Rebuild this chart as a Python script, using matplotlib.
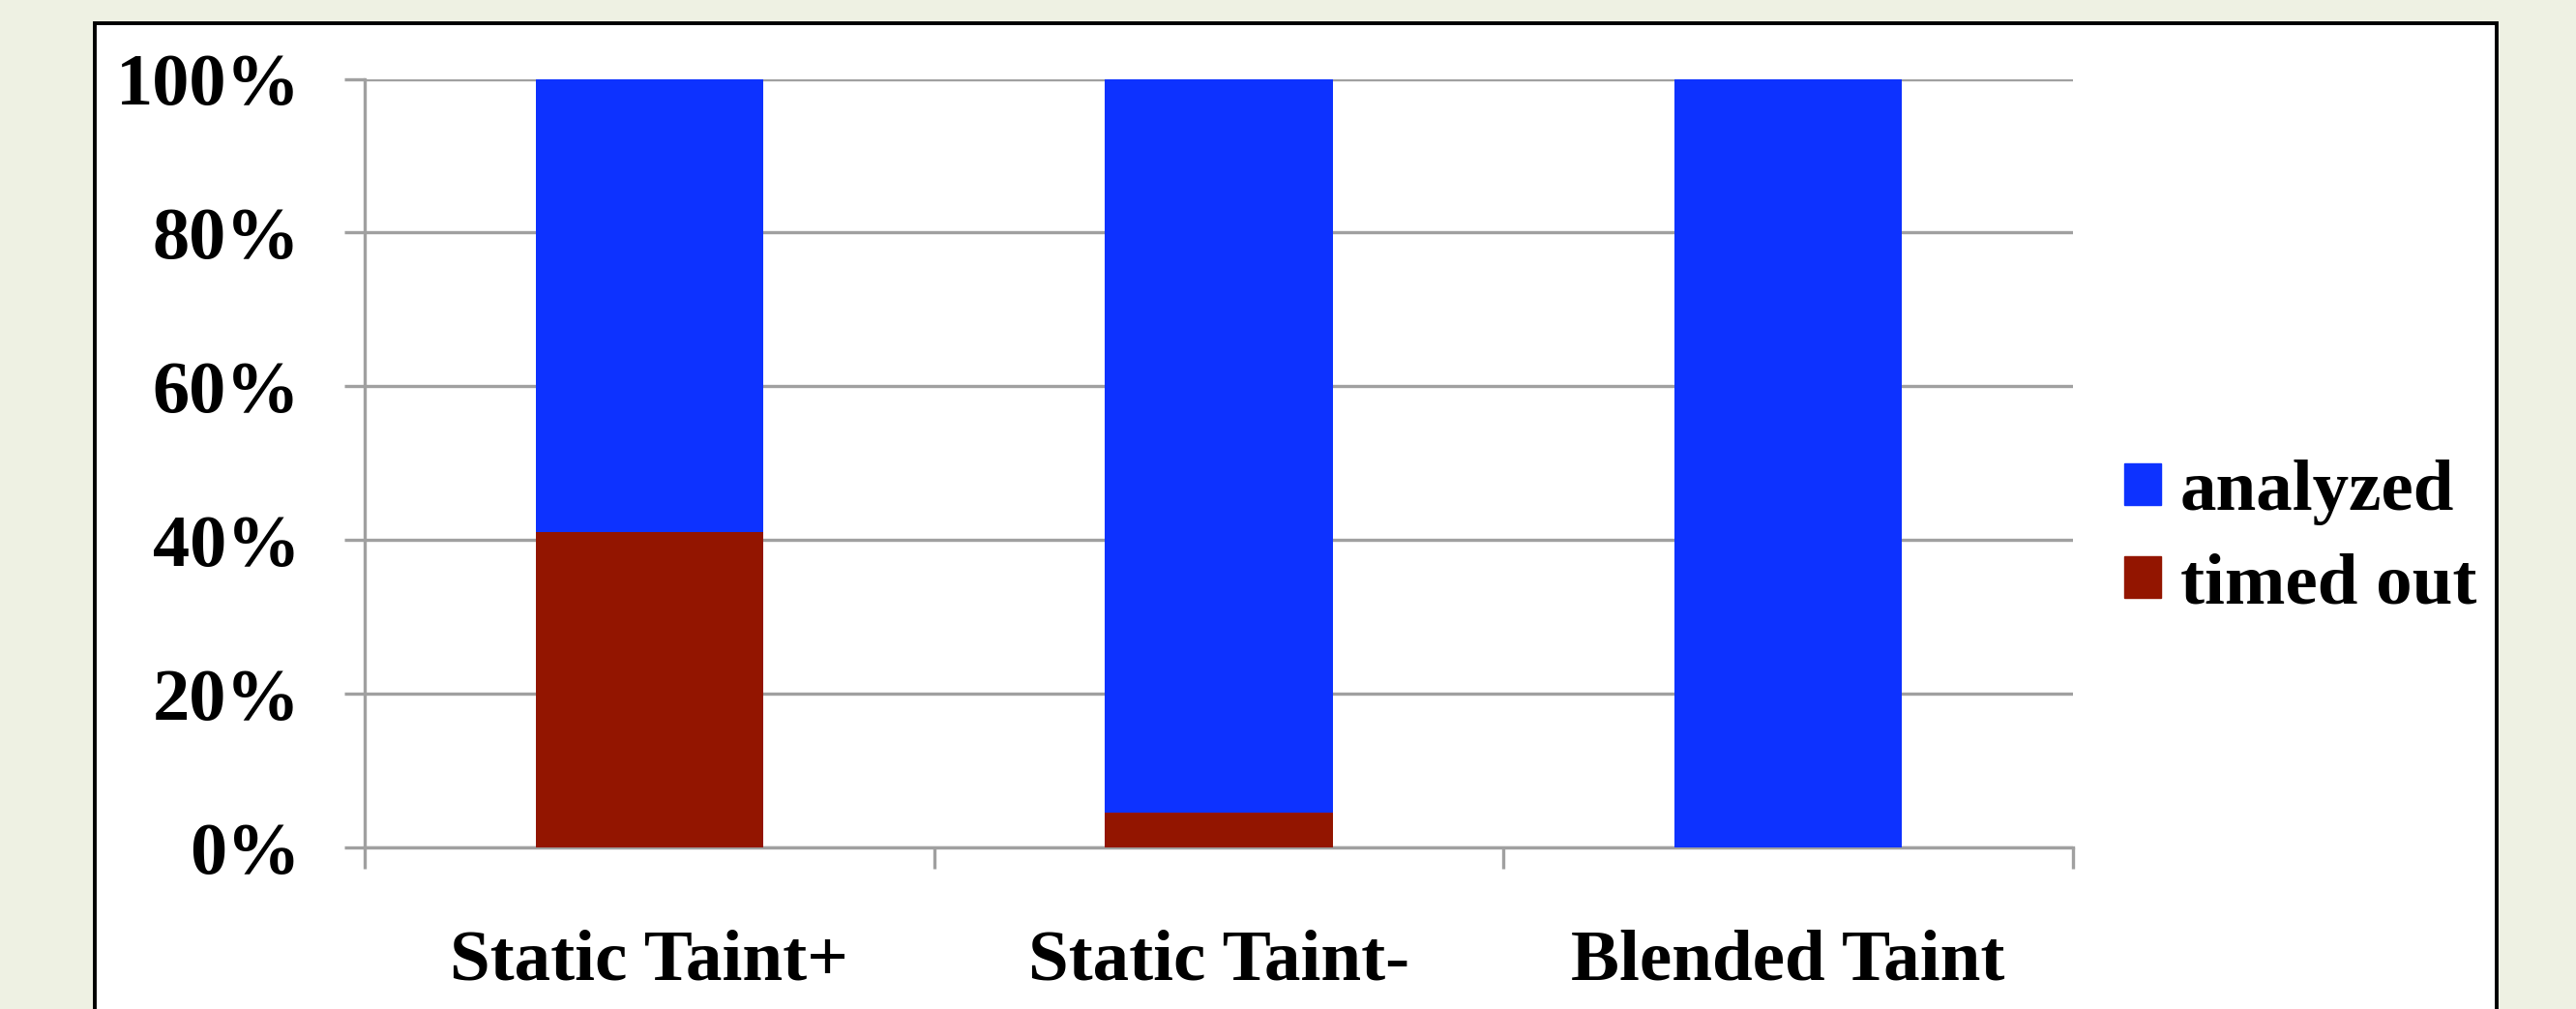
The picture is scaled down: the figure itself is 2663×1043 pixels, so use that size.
import matplotlib.pyplot as plt
from matplotlib.patches import Rectangle, Patch

plt.rcParams['font.family'] = ['Liberation Serif', 'DejaVu Serif']
plt.rcParams['font.weight'] = 'bold'

categories = ['Static Taint+', 'Static Taint-', 'Blended Taint']
timed_out = [41.0, 4.5, 0.0]
analyzed = [59.0, 95.5, 100.0]
y_ticks = [0, 20, 40, 60, 80, 100]

BLUE = '#0D32FF'
RED = '#931500'
GRID = '#A0A0A0'
BG = '#EEF1E3'

W, H = 2663, 1043
fig = plt.figure(figsize=(W / 100, H / 100), dpi=100, facecolor=BG)

# white slide frame with black border (runs off the bottom)
fig.patches.append(Rectangle((98 / W, -0.1), (2581 - 98) / W, 1.1 - 24 / H,
                             transform=fig.transFigure, facecolor='white',
                             edgecolor='black', linewidth=2.8, zorder=-10))

ax = fig.add_axes([377 / W, (H - 876) / H, (2143 - 377) / W, (876 - 81.5) / H])
ax.set_facecolor('none')

x = range(len(categories))
ax.bar(x, timed_out, width=0.4, color=RED, label='timed out', zorder=3)
ax.bar(x, analyzed, width=0.4, bottom=timed_out, color=BLUE, label='analyzed', zorder=3)

ax.set_xlim(-0.5, len(categories) - 0.5)
ax.set_ylim(0, 100)
ax.set_yticks(y_ticks)
ax.set_yticklabels([f'{v}%' for v in y_ticks], fontsize=55, fontweight='bold')
ax.yaxis.grid(True, color=GRID, linewidth=2.4, zorder=1)

ax.set_xticks([i + 0.5 for i in range(-1, len(categories))], minor=False)
ax.set_xticklabels([])
ax.set_xticks(list(x), minor=True)
ax.set_xticklabels(categories, minor=True, fontsize=54, fontweight='bold')
ax.tick_params(axis='x', which='major', length=16, width=2.4, color=GRID, direction='out')
ax.tick_params(axis='x', which='minor', length=0, pad=61)
ax.tick_params(axis='y', length=15, width=2.4, color=GRID, pad=33)

for side in ['top', 'right']:
    ax.spines[side].set_visible(False)
for side in ['left', 'bottom']:
    ax.spines[side].set_color(GRID)
    ax.spines[side].set_linewidth(2.4)

handles = [Patch(color=BLUE, label='analyzed'), Patch(color=RED, label='timed out')]
fig.legend(handles=handles, loc='center left', bbox_to_anchor=(2196 / W, 1 - 557 / H),
           frameon=False, fontsize=54, handlelength=0.5, handleheight=0.5,
           handletextpad=0.27, labelspacing=0.38, borderpad=0, borderaxespad=0)

fig.savefig('out.png', dpi=100, facecolor=BG)
